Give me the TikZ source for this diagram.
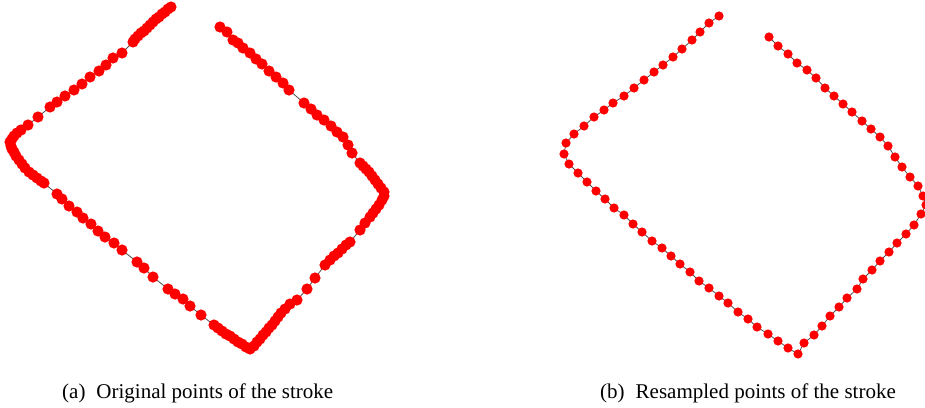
\documentclass[tikz,border=0pt]{standalone}
\usepackage{fontspec}
\setmainfont{Liberation Serif}
\definecolor{ptred}{RGB}{255,0,0}
\definecolor{tracegray}{RGB}{80,80,80}
\tikzset{
  rawpt/.style={fill=ptred},
  samplept/.style={fill=ptred},
  trace/.style={draw=tracegray, line width=0.8pt},
  subcap/.style={anchor=base west, inner sep=0pt, font=\fontsize{21}{25}\selectfont}
}
% points in image pixels, y pointing down
\newcommand\rawpts{168/9,165/12,162/14,159/17,156/19,153/22,150/25,147/28,144/31,141/33,138/36,135/39,133/42,
  122/53,113/58,106/65,99/71,90/77,82/84,74/90,65/96,57/102,50/107,38/117,28/125,
  21/130,17/133,14/136,12/139,10/142,11/146,12/149,14/152,16/156,19/160,22/164,25/168,29/172,33/175,37/178,41/181,44/183,
  57/194,62/199,69/206,77/212,83/218,91/224,98/231,105/237,114/243,122/250,137/262,144/268,153/277,168/289,175/294,183/299,190/306,201/315,
  214/325,218/328,222/331,226/334,230/336,234/339,238/342,242/344,246/347,250/349,
  254/346,257/342,260/339,263/335,266/332,269/328,272/325,275/321,278/317,281/313,285/309,290/304,297/300,307/289,315/278,325/265,
  330/260,334/256,338/253,342/249,346/245,350/242,360/230,365/223,
  370/217,373/213,376/209,379/205,382/200,384/196,384/192,381/188,378/184,375/180,372/176,369/172,366/169,363/166,360/163,
  352/153,348/145,343/137,337/132,331/126,324/120,317/115,311/109,304/103,289/90,283/83,276/77,269/71,262/64,256/59,250/53,243/48,238/43,233/40,227/32,220/27}
\newcommand\samplepts{709/23,700/32,692/40,682/49,673/57,663/65,654/72,644/80,634/88,624/96,613/103,604/110,594/117,584/126,574/134,566/143,
  564/154,569/164,578/173,587/182,596/191,605/199,614/208,624/215,633/224,642/232,652/241,662/248,671/256,680/264,690/272,699/281,709/288,719/296,728/303,738/312,748/319,757/327,768/334,778/341,788/348,798/354,
  804/343,814/335,822/326,830/316,839/307,847/298,857/289,863/279,872/270,880/261,889/252,897/243,906/234,914/225,921/214,926/205,923/196,
  918/186,910/177,902/167,895/157,888/146,880/137,871/129,862/121,852/112,843/104,834/96,825/88,816/78,807/70,797/63,788/54,778/46,769/37}

\begin{document}
\begin{tikzpicture}[x=1pt,y=-1pt]
  \useasboundingbox (0,0) rectangle (925,407);
  \clip (0,0) rectangle (925,407);

  % (a) original stroke
  \draw[trace] (171,7) \foreach \x/\y in \rawpts {-- (\x,\y)};
  \fill[rawpt] (171,7) circle[radius=5.6];
  \foreach \x/\y in \rawpts \fill[rawpt] (\x,\y) circle[radius=5.6];

  % (b) resampled stroke
  \draw[trace] (719,16) \foreach \x/\y in \samplepts {-- (\x,\y)};
  \fill[samplept] (719,16) circle[radius=4.6];
  \foreach \x/\y in \samplepts \fill[samplept] (\x,\y) circle[radius=4.6];

  \node[subcap] (capa) at (62,398) {(a)\hspace{11pt}Original points of the stroke};
  \node[subcap] (capb) at (600,398) {(b)\hspace{11pt}Resampled points of the stroke};
\end{tikzpicture}
\end{document}
